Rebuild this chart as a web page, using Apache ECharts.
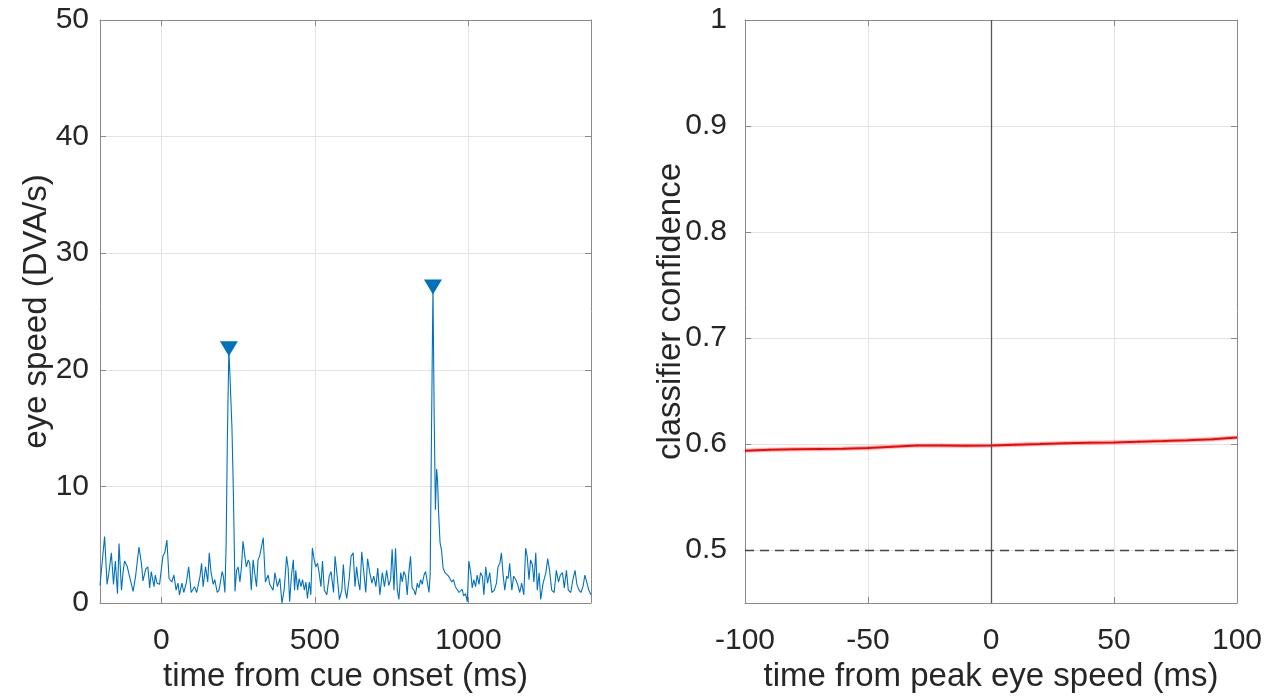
<!DOCTYPE html>
<html>
<head>
<meta charset="utf-8">
<script src="https://cdn.jsdelivr.net/npm/echarts@6/dist/echarts.min.js"></script>
<style>
html,body{margin:0;padding:0;background:#fff;}
#c{width:1273px;height:698px;}
</style>
</head>
<body>
<div id="c"></div>
<script>
// ---- Left panel: eye speed trace ----
const cueTimes = [-200,-185,-177,-171,-163,-156,-150,-143,-138,-130,-125,-120,-111,-104,-92,-84,-73,-65,-60,-51,-44,-38,-33,-24,-20,-14,-6,5,11,18,25,34,41,48,54,59,67,73,81,89,97,108,115,126,131,136,144,151,156,162,169,174,182,188,194,198,202,207,211,215,220,225,230,235,240,245,250,256,261,266,272,277,283,288,293,299,304,310,315,320,332,339,348,353,359,364,370,378,386,393,400,408,413,418,424,430,434,438,444,449,455,460,466,471,476,482,487,492,498,503,509,514,520,525,531,539,547,553,561,566,574,580,588,593,599,604,612,618,625,631,636,642,647,653,659,666,672,679,686,692,699,705,712,720,727,734,741,747,752,758,763,769,774,780,785,790,796,801,807,812,817,823,828,834,839,845,850,856,861,866,872,876,880,885,889,893,897,900,903,908,913,918,924,930,936,940,946,952,958,964,970,975,980,985,991,997,1002,1008,1013,1018,1024,1029,1035,1040,1046,1051,1057,1063,1070,1077,1085,1092,1097,1103,1108,1114,1119,1125,1130,1135,1142,1148,1155,1161,1168,1174,1181,1187,1192,1198,1203,1209,1214,1220,1225,1231,1236,1244,1253,1259,1265,1272,1280,1287,1294,1300,1307,1313,1320,1326,1334,1341,1348,1354,1361,1367,1374,1380,1387,1393,1400];
const eyeSpeed = [1.5,5.7,1.6,2.6,4.3,1.6,3.6,0.8,5.1,1.1,2.6,3.6,3.1,2.3,1.0,2.3,4.8,3.4,1.9,2.9,3.1,1.3,2.7,1.4,2.4,1.7,1.6,4.0,4.3,5.4,2.1,1.8,2.4,1.1,1.7,0.7,1.7,0.9,1.7,3.1,0.9,1.4,0.9,2.3,3.4,1.4,3.1,1.8,4.3,2.6,1.6,2.0,0.9,1.1,1.0,2.7,2.3,0.9,5.0,14.0,21.8,18.5,15.0,9.0,1.0,2.8,3.1,1.8,3.1,5.3,4.0,3.1,3.7,3.4,1.1,3.7,2.6,1.4,3.7,4.0,5.6,1.8,2.4,1.6,1.7,1.1,2.6,1.4,2.1,0.0,1.1,4.0,3.0,0.1,2.4,3.7,1.1,2.8,1.1,2.1,1.4,2.0,1.1,1.8,0.4,1.8,0.7,4.7,3.7,3.1,3.4,2.6,1.4,3.6,1.1,0.7,2.3,2.7,0.9,4.0,2.0,0.3,1.1,3.3,1.1,0.4,2.1,4.0,4.3,1.4,3.1,1.8,1.1,4.4,2.8,0.9,3.8,2.6,1.7,2.3,1.4,3.0,0.7,2.6,1.4,2.8,1.5,2.0,4.6,1.1,4.7,1.1,0.3,2.6,1.8,2.7,2.3,0.7,2.8,4.0,1.3,1.1,0.7,1.7,1.3,2.0,1.6,2.4,2.7,2.6,0.9,2.5,14.0,27.1,16.0,8.0,11.5,10.5,8.0,5.2,4.5,3.0,2.6,2.5,2.3,2.4,1.8,2.0,1.4,1.4,0.9,1.0,1.2,0.6,0.8,0.1,3.6,2.6,1.3,2.0,1.4,2.4,1.6,2.6,2.3,0.7,3.1,1.7,2.6,0.9,1.1,1.7,3.1,3.4,4.3,2.3,1.1,2.3,2.1,3.4,1.1,2.3,2.0,1.6,0.9,1.7,0.7,4.7,4.0,2.0,3.7,3.3,1.8,4.3,1.1,2.6,0.3,1.7,2.6,3.8,2.8,1.1,0.9,2.8,1.8,2.4,2.6,1.3,2.8,1.1,0.9,2.0,2.8,1.6,1.1,0.9,1.4,2.4,1.7,1.1,0.7];
const peakTimes = [220, 885];
const peakSpeeds = [21.8, 27.1];
const leftXTicks = [0, 500, 1000];

// ---- Right panel: classifier confidence ----
const peakOffsets = [-100,-90,-80,-70,-60,-50,-40,-30,-20,-10,0,10,20,30,40,50,60,70,80,90,100];
const confidence = [0.5937,0.5945,0.5950,0.5953,0.5956,0.5962,0.5975,0.5985,0.5985,0.5983,0.5985,0.5993,0.6000,0.6008,0.6012,0.6015,0.6022,0.6028,0.6035,0.6045,0.6062];
const confSem = [0.0016,0.0016,0.0016,0.0016,0.0016,0.0016,0.0016,0.0016,0.0016,0.0016,0.0016,0.0016,0.0016,0.0016,0.0016,0.0016,0.0016,0.0016,0.0016,0.0016,0.0016];
const rightYTicks = [0.5, 0.6, 0.7, 0.8, 0.9, 1];
const chanceLevel = 0.5;

const FONT = 'Liberation Sans, Arial, Helvetica, sans-serif';
const TXT = '#262626';
const BOX = '#8a8a8a';
const GRIDC = '#e3e3e3';

const trace = cueTimes.map((t, i) => [t, eyeSpeed[i]]);
const peaks = peakTimes.map((t, i) => [t, peakSpeeds[i]]);
const confLine = peakOffsets.map((t, i) => [t, confidence[i]]);
const bandSegs = peakOffsets.slice(0, -1).map((t, i) => [i]);

function mainAxis(extra) {
  return Object.assign({
    type: 'value',
    axisLine: { show: true, onZero: false, lineStyle: { color: BOX, width: 1 } },
    axisTick: { show: true, inside: true, length: 6, lineStyle: { color: BOX } },
    axisLabel: { color: TXT, fontSize: 30, fontFamily: FONT },
    splitLine: { show: true, lineStyle: { color: GRIDC, width: 1 } },
    nameLocation: 'middle',
    nameMoveOverlap: false,
    nameTextStyle: { color: TXT, fontSize: 33, fontFamily: FONT }
  }, extra);
}
function boxAxis(extra) {
  return Object.assign({
    type: 'value',
    axisLine: { show: true, onZero: false, lineStyle: { color: BOX, width: 1 } },
    axisTick: { show: true, inside: true, length: 6, lineStyle: { color: BOX } },
    axisLabel: { show: false },
    splitLine: { show: false }
  }, extra);
}

const chart = echarts.init(document.getElementById('c'), null, { renderer: 'canvas' });
chart.setOption({
  animation: false,
  backgroundColor: '#fff',
  grid: [
    { left: 100, top: 20, width: 491, height: 585 },
    { left: 745, top: 20, width: 492, height: 586 }
  ],
  xAxis: [
    mainAxis({ gridIndex: 0, min: -200, max: 1400, name: 'time from cue onset (ms)', nameGap: 57,
      axisTick: { show: true, inside: true, length: 6, customValues: leftXTicks, lineStyle: { color: BOX } },
      axisLabel: { color: TXT, fontSize: 30, fontFamily: FONT, margin: 23, customValues: leftXTicks,
        formatter: v => String(v) } }),
    boxAxis({ gridIndex: 0, position: 'top', min: -200, max: 1400,
      axisTick: { show: true, inside: true, length: 6, customValues: leftXTicks, lineStyle: { color: BOX } } }),
    mainAxis({ gridIndex: 1, min: -100, max: 100, interval: 50, name: 'time from peak eye speed (ms)', nameGap: 57,
      axisLabel: { color: TXT, fontSize: 30, fontFamily: FONT, margin: 23, formatter: v => String(v) } }),
    boxAxis({ gridIndex: 1, position: 'top', min: -100, max: 100, interval: 50 })
  ],
  yAxis: [
    mainAxis({ gridIndex: 0, min: 0, max: 50, interval: 10, name: 'eye speed (DVA/s)', nameGap: 47,
      axisLabel: { color: TXT, fontSize: 30, fontFamily: FONT, margin: 11 } }),
    boxAxis({ gridIndex: 0, position: 'right', min: 0, max: 50, interval: 10 }),
    mainAxis({ gridIndex: 1, min: 0.45, max: 1, name: 'classifier confidence', nameGap: 58,
      axisTick: { show: true, inside: true, length: 6, customValues: rightYTicks, lineStyle: { color: BOX } },
      axisLabel: { color: TXT, fontSize: 30, fontFamily: FONT, margin: 18, customValues: rightYTicks } }),
    boxAxis({ gridIndex: 1, position: 'right', min: 0.45, max: 1,
      axisTick: { show: true, inside: true, length: 6, customValues: rightYTicks, lineStyle: { color: BOX } } })
  ],
  series: [
    {
      type: 'line', xAxisIndex: 0, yAxisIndex: 0, data: trace,
      showSymbol: false, symbol: 'none',
      lineStyle: { color: '#0072BD', width: 1.1 }
    },
    {
      type: 'scatter', xAxisIndex: 0, yAxisIndex: 0, data: peaks,
      symbol: 'triangle', symbolRotate: 180, symbolSize: [18, 15],
      itemStyle: { color: '#0072BD', opacity: 1 }
    },
    {
      type: 'custom', xAxisIndex: 2, yAxisIndex: 2, data: bandSegs,
      silent: true, clip: true,
      renderItem: function (params, api) {
        const i = api.value(0);
        const a = i, b = i + 1;
        const p1 = api.coord([peakOffsets[a], confidence[a] + confSem[a]]);
        const p2 = api.coord([peakOffsets[b], confidence[b] + confSem[b]]);
        const p3 = api.coord([peakOffsets[b], confidence[b] - confSem[b]]);
        const p4 = api.coord([peakOffsets[a], confidence[a] - confSem[a]]);
        return {
          type: 'polygon',
          shape: { points: [p1, p2, p3, p4] },
          style: { fill: 'rgba(255,0,0,0.28)', stroke: 'rgba(255,0,0,0.28)', lineWidth: 0.5 }
        };
      }
    },
    {
      type: 'line', xAxisIndex: 2, yAxisIndex: 2, data: confLine,
      showSymbol: false, symbol: 'none',
      lineStyle: { color: '#ff0000', width: 2 },
      markLine: {
        silent: true, symbol: 'none', label: { show: false },
        data: [
          { xAxis: 0, lineStyle: { color: '#555555', width: 1.3, type: 'solid' } },
          { yAxis: chanceLevel, lineStyle: { color: '#444444', width: 1.3, type: [9, 6] } }
        ]
      }
    }
  ]
});
</script>
</body>
</html>
